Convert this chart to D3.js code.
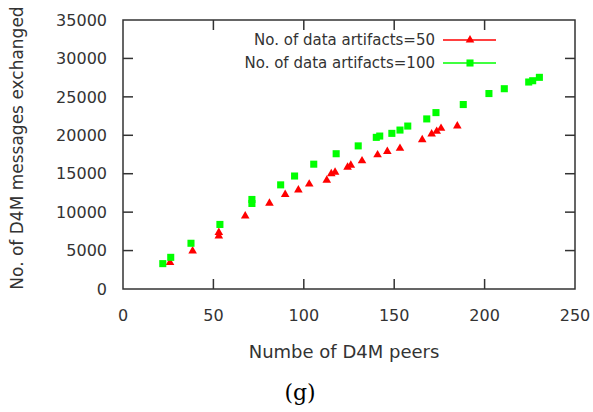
<!DOCTYPE html>
<html>
<head>
<meta charset="utf-8">
<script src="https://cdn.jsdelivr.net/npm/d3@7"></script>
<style>
  body { margin: 0; background: #fff; }
  svg { display: block; }
  .tick-label { font-family: "DejaVu Sans", sans-serif; font-size: 16px; fill: #333; }
  .axis-title { font-family: "DejaVu Sans", sans-serif; font-size: 17px; fill: #333; }
  .legend-text { font-family: "DejaVu Sans", sans-serif; font-size: 15px; fill: #333; }
</style>
</head>
<body>
<svg id="chart" width="593" height="412"></svg>
<script>
// red series: 50 data artifacts
const peers50 = [26, 38.5, 53, 53, 67.6, 81, 89.7, 97, 103, 112.7, 115.2, 117.3, 124.2, 126, 132.2,
  140.8, 146.2, 153.2, 165.5, 170.7, 173.5, 175.9, 184.9];
const msgs50 = [3450, 4950, 7350, 6900, 9500, 11150, 12300, 12880, 13650, 14150, 15000, 15180, 15830, 16100, 16670,
  17450, 17890, 18300, 19420, 20160, 20510, 20900, 21200];

// green series: 100 data artifacts
const peers100 = [22, 26.4, 37.6, 53.6, 71.3, 71.3, 87.2, 94.9, 105.5, 117.9, 130.1, 140.1, 142, 148.7, 153.2,
  157.5, 168, 173.1, 188.2, 202.4, 210.9, 224.4, 226.6, 230.3];
const msgs100 = [3300, 4120, 5950, 8400, 11650, 11130, 13550, 14700, 16240, 17600, 18620, 19730, 19900, 20250, 20680,
  21200, 22130, 22950, 24000, 25430, 26060, 26930, 27100, 27540];

const xTicks = [0, 50, 100, 150, 200, 250];
const yTicks = [0, 5000, 10000, 15000, 20000, 25000, 30000, 35000];
const legendLabels = ['No. of data artifacts=50', 'No. of data artifacts=100'];

const frame = { left: 123, right: 575, top: 20, bottom: 289 };
const AXIS_COLOR = '#333';
const TICK_LEN = 10;

const svg = d3.select('#chart');

const x = d3.scaleLinear().domain([0, 250]).range([frame.left, frame.right]);
const y = d3.scaleLinear().domain([0, 35000]).range([frame.bottom, frame.top]);

// inner ticks on all four sides
const axisGroup = svg.append('g').attr('stroke', AXIS_COLOR).attr('stroke-width', 1.5);

axisGroup.selectAll('line.xt')
  .data(xTicks.slice(1, -1))
  .join('line')
  .attr('class', 'xt')
  .attr('x1', (d) => x(d)).attr('x2', (d) => x(d))
  .attr('y1', frame.bottom).attr('y2', frame.bottom - TICK_LEN);
axisGroup.selectAll('line.xt2')
  .data(xTicks.slice(1, -1))
  .join('line')
  .attr('class', 'xt2')
  .attr('x1', (d) => x(d)).attr('x2', (d) => x(d))
  .attr('y1', frame.top).attr('y2', frame.top + TICK_LEN);
axisGroup.selectAll('line.yt')
  .data(yTicks.slice(1, -1))
  .join('line')
  .attr('class', 'yt')
  .attr('x1', frame.left).attr('x2', frame.left + TICK_LEN)
  .attr('y1', (d) => y(d)).attr('y2', (d) => y(d));
axisGroup.selectAll('line.yt2')
  .data(yTicks.slice(1, -1))
  .join('line')
  .attr('class', 'yt2')
  .attr('x1', frame.right).attr('x2', frame.right - TICK_LEN)
  .attr('y1', (d) => y(d)).attr('y2', (d) => y(d));

svg.append('rect')
  .attr('x', frame.left).attr('y', frame.top)
  .attr('width', frame.right - frame.left).attr('height', frame.bottom - frame.top)
  .attr('fill', 'none').attr('stroke', AXIS_COLOR).attr('stroke-width', 1.5);

svg.selectAll('text.xl')
  .data(xTicks)
  .join('text')
  .attr('class', 'tick-label')
  .attr('x', (d) => x(d)).attr('y', 315)
  .attr('text-anchor', 'middle').attr('dy', '0.36em')
  .text((d) => d);

svg.selectAll('text.yl')
  .data(yTicks)
  .join('text')
  .attr('class', 'tick-label')
  .attr('x', 107).attr('y', (d) => y(d))
  .attr('text-anchor', 'end').attr('dy', '0.36em')
  .text((d) => d);

svg.append('text')
  .attr('class', 'axis-title')
  .attr('x', 344).attr('y', 352)
  .attr('text-anchor', 'middle').attr('dy', '0.36em')
  .style('font-size', '18px')
  .text('Numbe of D4M peers');

svg.append('text')
  .attr('class', 'axis-title')
  .attr('transform', 'translate(17,148) rotate(-90)')
  .attr('text-anchor', 'middle').attr('dy', '0.36em')
  .text('No. of D4M messages exchanged');

svg.append('text')
  .attr('x', 300).attr('y', 392)
  .attr('text-anchor', 'middle').attr('dy', '0.36em')
  .style('font-family', '"DejaVu Serif", serif')
  .style('font-size', '22px')
  .text('(g)');

const triangle = d3.symbol().type(d3.symbolTriangle).size(32);
const square = d3.symbol().type(d3.symbolSquare).size(50);

const red = d3.zip(peers50, msgs50);
const green = d3.zip(peers100, msgs100);

svg.append('g').selectAll('path')
  .data(red)
  .join('path')
  .attr('d', triangle)
  .attr('transform', (d) => `translate(${x(d[0])},${y(d[1])})`)
  .attr('fill', '#ff0000');

svg.append('g').selectAll('path')
  .data(green)
  .join('path')
  .attr('d', square)
  .attr('transform', (d) => `translate(${x(d[0])},${y(d[1])})`)
  .attr('fill', '#00ff00');

// legend
const legend = svg.append('g');
const legendRows = [
  { label: legendLabels[0], color: '#ff0000', symbol: triangle, y: 40 },
  { label: legendLabels[1], color: '#00ff00', symbol: square, y: 63 }
];
legendRows.forEach((row) => {
  legend.append('text')
    .attr('class', 'legend-text')
    .attr('x', 435).attr('y', row.y)
    .attr('text-anchor', 'end').attr('dy', '0.36em')
    .text(row.label);
  legend.append('line')
    .attr('x1', 443).attr('x2', 496)
    .attr('y1', row.y).attr('y2', row.y)
    .attr('stroke', row.color).attr('stroke-width', 1.5);
  legend.append('path')
    .attr('d', row.symbol)
    .attr('transform', `translate(470,${row.y})`)
    .attr('fill', row.color);
});
</script>
</body>
</html>
